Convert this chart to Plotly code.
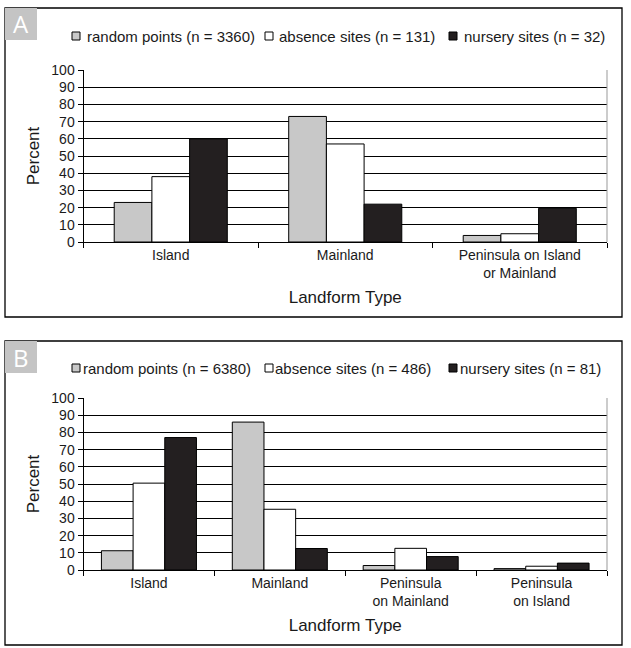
import plotly.graph_objects as go

# ---- data ----
cats_a = ["Island", "Mainland", "Peninsula on Island<br>or Mainland"]
random_a = [23, 73, 3.8]
absence_a = [38, 57, 4.8]
nursery_a = [60, 22, 19.6]
names_a = ["random points (n = 3360)", "absence sites (n = 131)", "nursery sites (n = 32)"]

cats_b = ["Island", "Mainland", "Peninsula<br>on Mainland", "Peninsula<br>on Island"]
random_b = [11.2, 86, 2.6, 0.8]
absence_b = [50.5, 35.3, 12.6, 2.2]
nursery_b = [77, 12.5, 7.8, 4]
names_b = ["random points (n = 6380)", "absence sites (n = 486)", "nursery sites (n = 81)"]

y_ticks = list(range(0, 101, 10))

colors = ["#c8c8c8", "#ffffff", "#231f20"]
FONT = "Liberation Sans, Arial, sans-serif"
TXT = "#1a1a1a"
W, H = 631, 648

fig = go.Figure()

def add_panel(cats, series, names, xa, ya, width):
    offsets = [-1.5 * width, -0.5 * width, 0.5 * width]
    for vals, name, col, off in zip(series, names, colors, offsets):
        fig.add_trace(go.Bar(x=cats, y=vals, name=name, marker=dict(color=col, line=dict(color="#000", width=1)),
                             width=width, offset=off, xaxis=xa, yaxis=ya, showlegend=False))

add_panel(cats_a, [random_a, absence_a, nursery_a], names_a, "x", "y", 0.216)
add_panel(cats_b, [random_b, absence_b, nursery_b], names_b, "x2", "y2", 0.242)

x0, x1 = 83.5 / W, 607 / W
ya_dom = [1 - 242 / H, 1 - 70 / H]
yb_dom = [1 - 570 / H, 1 - 398 / H]

def xaxis_cfg(dom, anchor):
    return dict(domain=dom, anchor=anchor, type="category", showline=True, linecolor="#000", linewidth=1,
                ticks="outside", ticklen=5, tickcolor="#000", tickson="boundaries", showgrid=False,
                automargin=False, tickfont=dict(size=14, color=TXT, family=FONT),
                title=dict(text="Landform Type", font=dict(size=17, color=TXT, family=FONT), standoff=11))

def yaxis_cfg(dom, anchor):
    return dict(domain=dom, anchor=anchor, range=[0, 100], tickvals=y_ticks, showline=True, linecolor="#000",
                linewidth=1, ticks="outside", ticklen=5, tickcolor="#000", showgrid=True, gridcolor="#000",
                gridwidth=1, zeroline=False, automargin=False, tickfont=dict(size=14, color=TXT, family=FONT),
                title=dict(text="Percent", font=dict(size=17, color=TXT, family=FONT), standoff=7))

fig.update_layout(
    template="none",
    width=W, height=H, margin=dict(l=0, r=0, t=0, b=0, pad=0),
    paper_bgcolor="#fff", plot_bgcolor="#fff", barmode="overlay", showlegend=False,
    font=dict(family=FONT, color=TXT),
    xaxis=xaxis_cfg([x0, x1], "y"), yaxis=yaxis_cfg(ya_dom, "x"),
    xaxis2=xaxis_cfg([x0, x1], "y2"), yaxis2=yaxis_cfg(yb_dom, "x2"),
)

shapes = []
annotations = []
# panel frames and letter boxes
for (t, b, letter) in [(8, 317, "A"), (341, 645, "B")]:
    shapes.append(dict(type="rect", xref="paper", yref="paper", x0=5 / W, x1=622 / W, y0=1 - b / H, y1=1 - t / H,
                       line=dict(color="#000", width=1.3), fillcolor="rgba(0,0,0,0)", layer="below"))
    shapes.append(dict(type="rect", xref="paper", yref="paper", x0=5 / W, x1=37 / W, y0=1 - (t + 32) / H,
                       y1=1 - t / H, line=dict(width=0), fillcolor="#c4c4c4", layer="below"))
    annotations.append(dict(text=letter, xref="paper", yref="paper", x=21 / W, y=1 - (t + 16) / H, showarrow=False,
                            font=dict(size=24, color="#fff", family="Open Sans, sans-serif"),
                            xanchor="center", yanchor="middle"))
# right border of plot areas
for xr, yr in [("x domain", "y domain"), ("x2 domain", "y2 domain")]:
    shapes.append(dict(type="line", xref=xr, yref=yr, x0=1, x1=1, y0=0, y1=1, line=dict(color="#999", width=1)))

# manual legends (square swatch + label)
legend_layout = [
    (names_a, 36, [(72, 85), (265, 277), (449, 462)]),
    (names_b, 368, [(72, 81), (265, 273), (449, 458)]),
]
for names, yc, pos in legend_layout:
    for name, col, (sx, tx) in zip(names, colors, pos):
        shapes.append(dict(type="rect", xref="paper", yref="paper", x0=sx / W, x1=(sx + 8) / W,
                           y0=1 - (yc + 4) / H, y1=1 - (yc - 4) / H, fillcolor=col,
                           line=dict(color="#000", width=1)))
        annotations.append(dict(text=name, xref="paper", yref="paper", x=tx / W, y=1 - yc / H, showarrow=False,
                                xanchor="left", yanchor="middle", font=dict(size=15, color=TXT, family=FONT)))

fig.update_layout(shapes=shapes, annotations=annotations)

fig.write_html("out.html", config={"displayModeBar": False},
               post_script="document.body.style.margin='0px';")
